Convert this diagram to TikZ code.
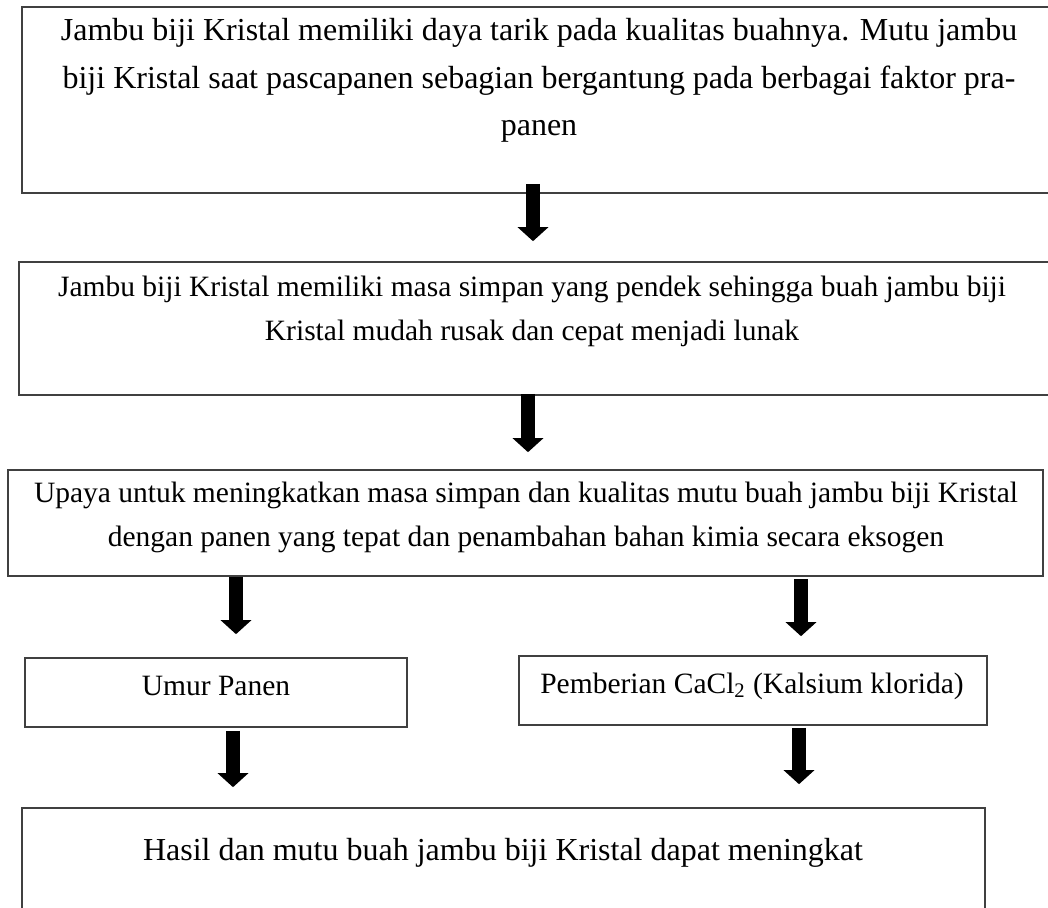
\documentclass[tikz,border=0pt]{standalone}
\usepackage{fontspec}
\setmainfont{Liberation Serif}
\usetikzlibrary{arrows.meta}

\tikzset{
  kotak/.style={draw=black!75, line width=0.8pt, inner sep=0pt},
  teks/.style={inner sep=0pt, align=center, font=\fontsize{14.75}{22}\selectfont},
  teksbesar/.style={teks, font=\fontsize{16}{23.75}\selectfont},
  panah/.style={line width=7pt, -{Triangle[width=15pt,length=7pt]}},
}

\begin{document}
\begin{tikzpicture}[x=0.5pt,y=-0.5pt]  % ------ Alur pemikiran jambu biji Kristal --------------
    \useasboundingbox (0,0) rectangle (1048,908);
    \clip (0,0) rectangle (1048,908);

    \coordinate (P1) at (533,0);
    \coordinate (P2) at (528,0);
    \coordinate (P3) at (236,0);
    \coordinate (P4) at (801,0);
    \coordinate (P5) at (233,0);
    \coordinate (P6) at (799,0);

    \node[kotak, minimum width=517pt, minimum height=93pt] (K1) at (539,100) {};
    \node[kotak, minimum width=518.5pt, minimum height=66.5pt] (K2) at (537.5,328.5) {};
    \node[kotak, minimum width=517.5pt, minimum height=53pt] (K3) at (525.5,523) {};
    \node[kotak, minimum width=191pt, minimum height=34.5pt] (K4) at (216,692.5) {};
    \node[kotak, minimum width=234pt, minimum height=34.5pt] (K5) at (753,690.5) {};
    \node[kotak, minimum width=481.5pt, minimum height=76pt] (K6) at (503.5,884) {};

    \node[teksbesar, anchor=north] (T1) at (539,18) {Jambu biji Kristal memiliki daya tarik pada kualitas buahnya. Mutu jambu\\
      biji Kristal saat pascapanen sebagian bergantung pada berbagai faktor pra-\\ panen};
    \node[teks, anchor=north] (T2) at (532,276) {Jambu biji Kristal memiliki masa simpan yang pendek sehingga buah jambu biji\\
      Kristal mudah rusak dan cepat menjadi lunak};
    \node[teks, anchor=north] (T3) at (526,482) {Upaya untuk meningkatkan masa simpan dan kualitas mutu buah jambu biji Kristal\\
      dengan panen yang tepat dan penambahan bahan kimia secara eksogen};
    \node[teks, anchor=base] (T4) at (216,695) {Umur Panen};
    \node[teks, anchor=base] (T5) at (752,693) {Pemberian CaCl\textsubscript{2} (Kalsium klorida)};
    \node[teksbesar, anchor=base] (T6) at (503,860) {Hasil dan mutu buah jambu biji Kristal dapat meningkat};

    \draw[panah, shorten <=-5pt, shorten >=10pt] (P1 |- K1.south) -- (P1 |- K2.north);
    \draw[panah, shorten <=-1pt, shorten >=8.5pt] (P2 |- K2.south) -- (P2 |- K3.north);
    \draw[panah, shorten >=11.5pt] (P3 |- K3.south) -- (P3 |- K4.north);
    \draw[panah, shorten <=1pt, shorten >=9.5pt] (P4 |- K3.south) -- (P4 |- K5.north);
    \draw[panah, shorten <=1.5pt, shorten >=10pt] (P5 |- K4.south) -- (P5 |- K6.north);
    \draw[panah, shorten <=1pt, shorten >=11.5pt] (P6 |- K5.south) -- (P6 |- K6.north);
\end{tikzpicture}
\end{document}
